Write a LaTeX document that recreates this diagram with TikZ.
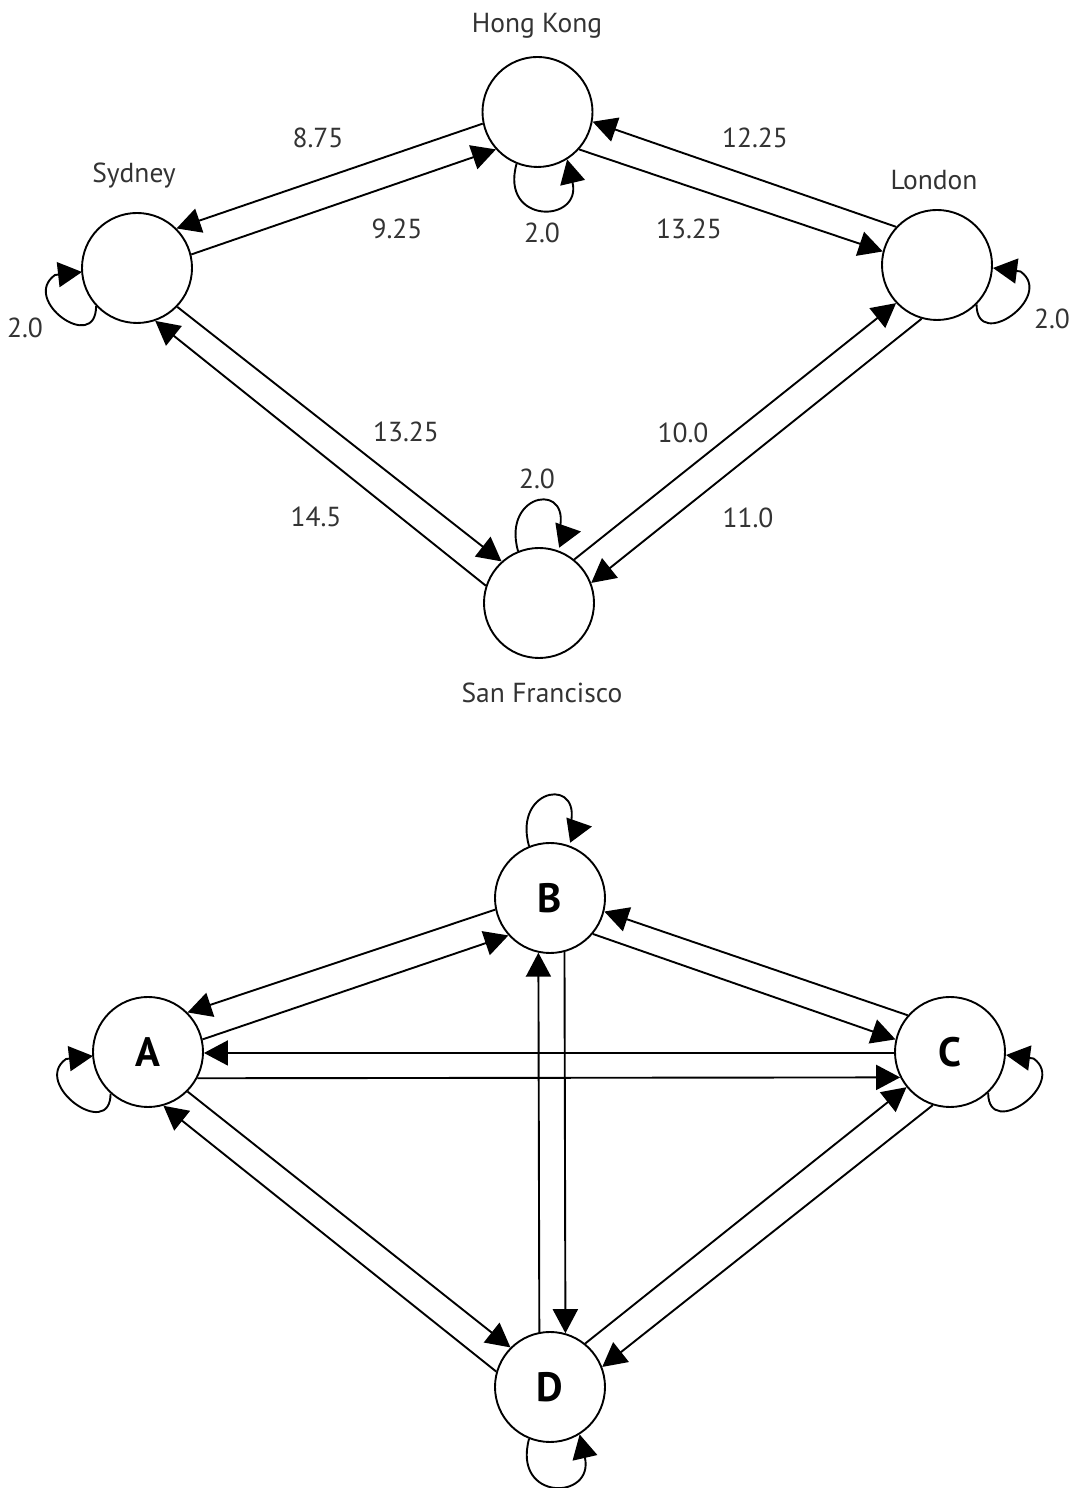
\documentclass[tikz,border=0pt]{standalone}
\usepackage{fontspec}
\setmainfont{PT Sans}
\usetikzlibrary{arrows.meta}
\begin{document}
\begin{tikzpicture}[x=1pt,y=1pt,
  city/.style={circle,draw,line width=1.9pt,minimum size=110pt,inner sep=0pt},
  arr/.style={line width=1.9pt,-{Triangle[length=24pt,width=25pt]}},
  lbl/.style={inner sep=0pt,text height=19.3pt,text depth=0pt,font=\fontsize{27.5}{32}\selectfont,text=black!80},
  big/.style={font=\fontsize{41}{48}\selectfont\bfseries}
]
\fill[white] (0,0) rectangle (1074,1488);
\useasboundingbox (0,0) rectangle (1074,1488);

% ---------- top graph ----------
\node[city] (hk)  at (537.5,1376) {};
\node[city] (syd) at (137,1220) {};
\node[city] (lon) at (937,1223) {};
\node[city] (sf)  at (539,885) {};

\node[lbl] (thk)  at (537,1465) {Hong Kong};
\node[lbl] (tsyd) at (134,1315) {Sydney};
\node[lbl] (tlon) at (934,1308) {London};
\node[lbl] (tsf)  at (542,795.5) {San Francisco};

\draw[arr] (hk.192) -- (syd.45);
\draw[arr] (syd.14) -- (hk.222.5);
\draw[arr] (lon.137) -- (hk.350);
\draw[arr] (hk.318) -- (lon.166.5);
\draw[arr] (syd.316.4) -- (sf.132.2);
\draw[arr] (sf.162.2) -- (syd.289.4);
\draw[arr] (sf.51.3) -- (lon.223.6);
\draw[arr] (lon.254.2) -- (sf.21.6);

% loops
\draw[arr] (hk.248) .. controls +(-17,-61) and +(15,-64) .. (hk.302);
\draw[arr] (sf.112.5) .. controls +(-17,60) and +(18,55) .. ([shift={(19,68)}]sf.center) -- ++(23,3.5);
\draw[arr] (syd.223) .. controls +(0,-48) and +(-35,-25) .. ([shift={(-82,-7)}]syd.center) -- ++(27,3);
\draw[arr] (lon.315.7) .. controls +(0,-48) and +(35,-25) .. ([shift={(83.5,-6.5)}]lon.center) -- ++(-27.5,3.5);

\node[lbl] (w1) at (318,1350.5) {8.75};
\node[lbl] (w2) at (397,1259) {9.25};
\node[lbl] (w3) at (542,1255.5) {2.0};
\node[lbl] (w4) at (755,1350.5) {12.25};
\node[lbl] (w5) at (689,1259) {13.25};
\node[lbl] (w6) at (1052,1169) {2.0};
\node[lbl] (w7) at (25,1160) {2.0};
\node[lbl] (w8) at (406,1056) {13.25};
\node[lbl] (w9) at (316,971) {14.5};
\node[lbl] (w10) at (537,1009) {2.0};
\node[lbl] (w11) at (683,1055.5) {10.0};
\node[lbl] (w12) at (748,970.5) {11.0};

% ---------- bottom graph ----------
\node[city,big] (b) at (550,590) {B};
\node[city,big] (a) at (148,436) {A};
\node[city,big] (c) at (950,436) {C};
\node[city,big] (d) at (550,101) {D};

\draw[arr] (b.192.2) -- (a.45);
\draw[arr] (a.13.3) -- (b.222.7);
\draw[arr] (c.139.6) -- (b.346.7);
\draw[arr] (b.320.3) -- (c.167.2);
\draw[arr] (c.181) -- (a.359);
\draw[arr] (a.332.2) -- (c.207.8);
\draw[arr] (d.101.4) -- (b.258.6);
\draw[arr] (b.285.6) -- (d.74.4);
\draw[arr] (a.315.7) -- (d.135.7);
\draw[arr] (d.164.7) -- (a.286.9);
\draw[arr] (d.51) -- (c.219);
\draw[arr] (c.252.2) -- (d.21.6);

% loops
\draw[arr] (d.248) .. controls +(-17,-63) and +(15,-66) .. (d.302);
\draw[arr] (b.112.5) .. controls +(-17,60) and +(18,55) .. ([shift={(19,68)}]b.center) -- ++(23,3.5);
\draw[arr] (a.228) .. controls +(0,-48) and +(-35,-25) .. ([shift={(-82,-7)}]a.center) -- ++(27,3);
\draw[arr] (c.313.6) .. controls +(0,-48) and +(35,-25) .. ([shift={(83.5,-6.5)}]c.center) -- ++(-27.5,3.5);
\end{tikzpicture}
\end{document}
